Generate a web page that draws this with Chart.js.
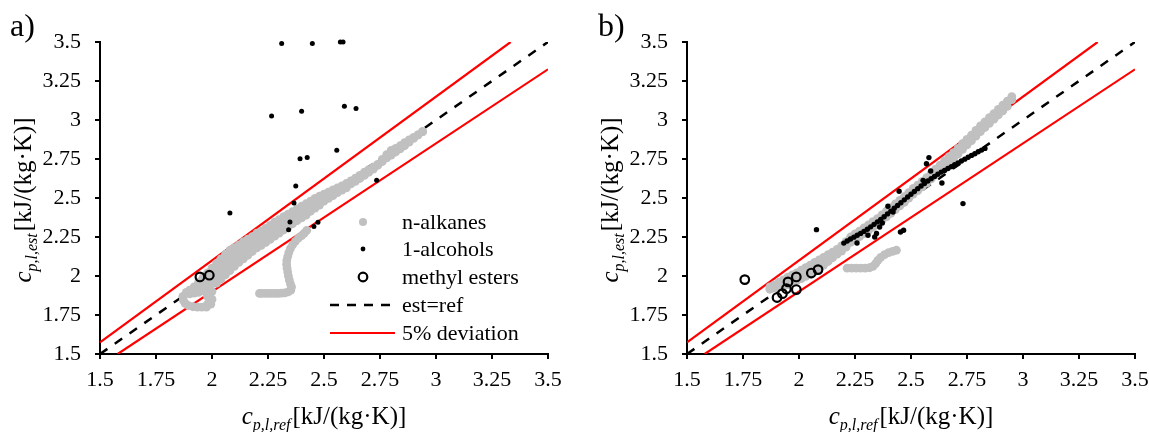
<!DOCTYPE html>
<html>
<head>
<meta charset="utf-8">
<script src="https://cdn.jsdelivr.net/npm/chart.js"></script>
<style>
  html, body { margin: 0; padding: 0; background: #fff; overflow: hidden; }
  #wrap { position: relative; width: 1149px; height: 432px; overflow: hidden; }
  #wrap canvas { position: absolute; top: 0; }
  #chartA { left: 0; }
  #chartB { left: 575px; }
</style>
</head>
<body>
<div id="wrap">
  <canvas id="chartA" width="575" height="432"></canvas>
  <canvas id="chartB" width="600" height="432"></canvas>
</div>
<script>
// shared axis ticks (both axes, both panels)
const axisTicks = [1.5, 1.75, 2, 2.25, 2.5, 2.75, 3, 3.25, 3.5];
const axisLabels = ['1.5', '1.75', '2', '2.25', '2.5', '2.75', '3', '3.25', '3.5'];

// reference lines: est = ref and the +/-5% band
const parityLine = [[1.5, 1.5], [3.5, 3.5]];
const devHigh = [[1.5, 1.575], [3.3333, 3.5]];
const devLow = [[1.5789, 1.5], [3.5, 3.325]];

// ---- panel a) ----
// n-alkanes cloud, read column by column: top edge, two inner rows, bottom edge
const alkColsA = [1.90, 1.92, 1.94, 1.96, 1.98, 2.00, 2.02, 2.04, 2.06, 2.08, 2.10, 2.12, 2.14, 2.16, 2.18, 2.20, 2.22, 2.24,
  2.26, 2.28, 2.30, 2.32, 2.34, 2.36, 2.38, 2.40, 2.42, 2.44, 2.46, 2.48, 2.50, 2.52, 2.54, 2.56, 2.58, 2.60, 2.62, 2.64,
  2.66, 2.68, 2.70, 2.72, 2.74, 2.76, 2.78, 2.80, 2.82, 2.84, 2.86, 2.88, 2.90, 2.92, 2.94];
const alkTopA = [1.91, 1.93, 1.96, 1.99, 2.02, 2.05, 2.08, 2.11, 2.14, 2.165, 2.182, 2.20, 2.22, 2.237, 2.253, 2.275, 2.288, 2.305,
  2.325, 2.345, 2.362, 2.38, 2.397, 2.413, 2.43, 2.447, 2.463, 2.48, 2.497, 2.512, 2.525, 2.538, 2.552, 2.565, 2.578, 2.593, 2.61, 2.627,
  2.645, 2.665, 2.682, 2.698, 2.715, 2.748, 2.778, 2.805, 2.818, 2.835, 2.855, 2.872, 2.888, 2.905, 2.925];
const alkIn1A = [null, null, 1.928, 1.948, 1.97, 2.0, 2.038, 2.067, 2.096, 2.122, 2.142, 2.162, 2.183, 2.202, 2.221, 2.243, 2.258, 2.275,
  2.295, 2.315, 2.333, 2.352, 2.37, 2.387, 2.405, 2.422, 2.439, 2.448, 2.466, 2.484, 2.503, 2.518, 2.534, 2.55, 2.564, 2.579, 2.60, 2.617,
  2.635, 2.655, 2.674, 2.692, 2.712, null, null, null, null, null, null, null, null, null, null];
const alkIn2A = [null, null, null, null, 1.92, 1.95, 1.997, 2.023, 2.052, 2.078, 2.102, 2.125, 2.147, 2.168, 2.189, 2.212, 2.227, 2.245,
  2.265, 2.285, 2.304, 2.323, 2.342, 2.361, 2.38, 2.397, 2.414, null, null, null, null, null, null, null, null, null, null, null,
  null, null, null, null, null, null, null, null, null, null, null, null, null, null, null];
const alkLowA = [1.885, 1.89, 1.895, 1.905, 1.82, 1.85, 1.955, 1.98, 2.008, 2.035, 2.062, 2.087, 2.11, 2.133, 2.157, 2.18, 2.197, 2.215,
  2.235, 2.255, 2.275, 2.295, 2.315, 2.335, 2.355, 2.372, 2.39, 2.415, 2.435, 2.455, 2.48, 2.497, 2.515, 2.535, 2.55, 2.565, 2.59, 2.607,
  2.625, 2.645, 2.665, 2.685, 2.71, 2.733, 2.757, 2.775, 2.795, 2.815, 2.835, 2.858, 2.882, 2.905, 2.925];
// curl at the low end and the separate branch below the band near 2.35
const alkTailA = [[1.87, 1.87], [1.872, 1.845], [1.88, 1.825], [1.895, 1.81], [1.915, 1.803], [1.935, 1.80], [1.955, 1.80],
  [1.975, 1.80], [1.98, 1.87], [2.0, 1.90], [1.995, 1.82], [1.885, 1.895],
  [2.423, 2.293], [2.412, 2.275], [2.40, 2.258], [2.385, 2.242], [2.372, 2.222], [2.36, 2.2], [2.35, 2.175], [2.343, 2.15],
  [2.338, 2.125], [2.334, 2.10], [2.333, 2.075], [2.335, 2.05], [2.338, 2.025], [2.341, 2.0], [2.345, 1.975], [2.35, 1.95],
  [2.355, 1.93], [2.352, 1.91], [2.34, 1.898], [2.325, 1.892], [2.31, 1.89], [2.295, 1.888], [2.28, 1.888], [2.265, 1.888],
  [2.25, 1.888], [2.235, 1.888], [2.22, 1.888], [2.212, 1.888]];
const alcoholsA = [[2.311, 3.49], [2.448, 3.49], [2.573, 3.50], [2.585, 3.50], [2.266, 3.026], [2.40, 3.056], [2.591, 3.088],
  [2.643, 3.073], [2.393, 2.752], [2.425, 2.759], [2.557, 2.806], [2.735, 2.613], [2.374, 2.577], [2.366, 2.468], [2.080, 2.404],
  [2.348, 2.346], [2.342, 2.297], [2.455, 2.318], [2.473, 2.344]];
const estersA = [[1.946, 1.994], [1.988, 2.005]];

// ---- panel b) ----
const alkColsB = [1.87, 1.89, 1.91, 1.93, 1.95, 1.97, 1.99, 2.01, 2.03, 2.05, 2.07, 2.09, 2.11, 2.13, 2.15, 2.17, 2.19, 2.21, 2.23,
  2.25, 2.27, 2.29, 2.31, 2.33, 2.35, 2.37, 2.39, 2.41, 2.43, 2.45, 2.47, 2.49, 2.51, 2.53, 2.55, 2.57, 2.59, 2.61, 2.63, 2.65,
  2.67, 2.69, 2.71, 2.73, 2.75, 2.77, 2.79, 2.81, 2.83, 2.85, 2.87, 2.89, 2.91, 2.93, 2.95];
const alkTopB = [1.93, 1.943, 1.96, 1.975, 1.992, 2.007, 2.02, 2.037, 2.053, 2.07, 2.087, 2.103, 2.12, 2.137, 2.153, 2.17, 2.193, 2.22,
  2.25, 2.27, 2.288, 2.308, 2.328, 2.348, 2.368, 2.392, 2.415, 2.438, 2.462, 2.485, 2.508, 2.535, 2.561, 2.583, 2.607, 2.631, 2.658,
  2.685, 2.711, 2.738, 2.765, 2.791, 2.818, 2.848, 2.876, 2.903, 2.933, 2.962, 2.988, 3.015, 3.041, 3.068, 3.095, 3.121, 3.15];
const alkLowB = [1.915, 1.922, 1.928, 1.935, 1.945, 1.958, 1.97, 1.983, 1.997, 2.01, 2.03, 2.05, 2.07, 2.093, 2.117, 2.14, 2.16, 2.185,
  2.215, 2.233, 2.252, 2.272, 2.292, 2.312, 2.332, 2.356, 2.379, 2.402, 2.426, 2.449, 2.472, 2.499, 2.525, 2.547, 2.571, 2.595, 2.622,
  2.649, 2.675, 2.702, 2.729, 2.755, 2.782, 2.812, 2.84, 2.867, 2.897, 2.926, 2.952, 2.979, 3.005, 3.032, 3.059, 3.087, 3.13];
const alkTailB = [[2.215, 2.05], [2.235, 2.05], [2.255, 2.05], [2.275, 2.05], [2.295, 2.05], [2.315, 2.053], [2.33, 2.062],
  [2.342, 2.08], [2.352, 2.10], [2.365, 2.12], [2.382, 2.137], [2.40, 2.15], [2.418, 2.158], [2.435, 2.165]];
// dense run of 1-alcohol points
const alcLineXB = [2.20, 2.215, 2.23, 2.245, 2.26, 2.275, 2.29, 2.305, 2.32, 2.335, 2.35, 2.365, 2.38, 2.395, 2.41, 2.425, 2.44,
  2.455, 2.47, 2.485, 2.50, 2.515, 2.53, 2.545, 2.56, 2.575, 2.59, 2.605, 2.62, 2.635, 2.65, 2.665, 2.68, 2.695, 2.71, 2.725,
  2.74, 2.755, 2.77, 2.785, 2.80, 2.815, 2.83];
const alcLineYB = [2.211, 2.224, 2.237, 2.249, 2.261, 2.273, 2.286, 2.300, 2.315, 2.331, 2.347, 2.363, 2.380, 2.398, 2.416, 2.434, 2.452,
  2.470, 2.488, 2.506, 2.524, 2.542, 2.560, 2.577, 2.593, 2.609, 2.624, 2.638, 2.652, 2.666, 2.677, 2.689, 2.701, 2.713, 2.725, 2.737,
  2.749, 2.761, 2.773, 2.784, 2.796, 2.807, 2.818];
const alcoholsB = [[2.078, 2.297], [2.259, 2.212], [2.308, 2.261], [2.338, 2.25], [2.346, 2.272], [2.36, 2.314], [2.372, 2.34],
  [2.397, 2.447], [2.42, 2.41], [2.447, 2.543], [2.453, 2.282], [2.467, 2.293], [2.554, 2.613], [2.569, 2.72], [2.58, 2.759],
  [2.588, 2.673], [2.638, 2.596], [2.732, 2.464]];
const estersB = [[1.758, 1.977], [1.902, 1.862], [1.926, 1.887], [1.944, 1.919], [1.951, 1.962], [1.988, 1.994], [1.988, 1.913],
  [2.055, 2.019], [2.085, 2.041]];

const SERIF = '"Liberation Serif", "Times New Roman", serif';
const GREY = '#c0c0c0';
const RED = '#ff0000';

const pts = arr => arr.map(([x, y]) => ({ x, y }));
const cols = (xs, ...rows) => {
  const out = [];
  rows.forEach(r => xs.forEach((x, i) => { if (r[i] != null) out.push({ x, y: r[i] }); }));
  return out;
};

function datasets(alkanes, alcohols, esters, alcRadius) {
  return [
    { label: 'methyl esters', data: esters, order: 0, pointRadius: 4.3, pointBorderWidth: 2.2,
      pointBorderColor: '#000', pointBackgroundColor: 'rgba(0,0,0,0)', clip: false },
    { label: '1-alcohols', data: alcohols, order: 1, pointRadius: alcRadius, pointBorderWidth: 0,
      pointBackgroundColor: '#000', clip: false },
    { label: 'n-alkanes', data: alkanes, order: 2, pointRadius: 4.4, pointBorderWidth: 0,
      pointBackgroundColor: GREY, clip: false },
    { label: 'est=ref', data: pts(parityLine), order: 3, showLine: true, pointRadius: 0,
      borderColor: '#000', borderWidth: 2.5, borderDash: [9, 9] },
    { label: '5% deviation', data: pts(devHigh), order: 4, showLine: true, pointRadius: 0,
      borderColor: RED, borderWidth: 2.2 },
    { label: '5% deviation (low)', data: pts(devLow), order: 4, showLine: true, pointRadius: 0,
      borderColor: RED, borderWidth: 2.2 }
  ];
}

function drawAxisTitle(ctx, sub, cx, cy, vertical) {
  const parts = [
    { t: 'c', f: 'italic 25px ' + SERIF, dy: 0, gap: 0 },
    { t: sub, f: 'italic 16px ' + SERIF, dy: 6, gap: 0 },
    { t: '[kJ/(kg·K)]', f: '25px ' + SERIF, dy: 0, gap: 2 }
  ];
  let w = 0;
  parts.forEach(p => { ctx.font = p.f; p.w = ctx.measureText(p.t).width; w += p.w + p.gap; });
  ctx.save();
  ctx.translate(cx, cy);
  if (vertical) ctx.rotate(-Math.PI / 2);
  ctx.fillStyle = '#000';
  ctx.textAlign = 'left';
  ctx.textBaseline = 'alphabetic';
  let x = -w / 2;
  parts.forEach(p => { x += p.gap; ctx.font = p.f; ctx.fillText(p.t, x, p.dy); x += p.w; });
  ctx.restore();
}

function drawLegend(ctx, area) {
  const sx = area.left + 263, lx0 = area.left + 230, lx1 = area.left + 295, tx = area.left + 302;
  const rowY = [222, 249, 277, 305, 333];
  const names = ['n-alkanes', '1-alcohols', 'methyl esters', 'est=ref', '5% deviation'];
  ctx.save();
  ctx.fillStyle = GREY;
  ctx.beginPath(); ctx.arc(sx, rowY[0], 4, 0, Math.PI * 2); ctx.fill();
  ctx.fillStyle = '#000';
  ctx.beginPath(); ctx.arc(sx, rowY[1], 2.4, 0, Math.PI * 2); ctx.fill();
  ctx.strokeStyle = '#000'; ctx.lineWidth = 2.2;
  ctx.beginPath(); ctx.arc(sx, rowY[2], 4.3, 0, Math.PI * 2); ctx.stroke();
  ctx.lineWidth = 2.5; ctx.setLineDash([9, 8]);
  ctx.beginPath(); ctx.moveTo(lx0, rowY[3]); ctx.lineTo(lx1, rowY[3]); ctx.stroke();
  ctx.setLineDash([]); ctx.strokeStyle = RED; ctx.lineWidth = 2.2;
  ctx.beginPath(); ctx.moveTo(lx0, rowY[4]); ctx.lineTo(lx1, rowY[4]); ctx.stroke();
  ctx.fillStyle = '#000';
  ctx.font = '22px ' + SERIF;
  ctx.textBaseline = 'middle';
  names.forEach((n, i) => ctx.fillText(n, tx, rowY[i] + 1));
  ctx.restore();
}

function makePanel(id, letter, letterX, yWidth, padRight, data, withLegend) {
  const decor = {
    id: 'decor',
    afterDatasetsDraw(chart) {
      if (withLegend) drawLegend(chart.ctx, chart.chartArea);
    },
    afterDraw(chart) {
      const ctx = chart.ctx, a = chart.chartArea;
      ctx.save();
      ctx.fillStyle = '#000';
      ctx.font = '32px ' + SERIF;
      ctx.textBaseline = 'alphabetic';
      ctx.fillText(letter, letterX, 36);
      ctx.restore();
      drawAxisTitle(ctx, 'p,l,ref', (a.left + a.right) / 2, 424, false);
      drawAxisTitle(ctx, 'p,l,est', a.left - 69, (a.top + a.bottom) / 2 + 2, true);
    }
  };
  const tickFont = { family: SERIF, size: 22 };
  const common = {
    type: 'linear', min: 1.5, max: 3.5,
    afterBuildTicks: s => { s.ticks = axisTicks.map(v => ({ value: v })); },
    grid: { drawOnChartArea: false, drawTicks: true, tickLength: 5, color: '#000', lineWidth: 2 },
    border: { display: true, color: '#000', width: 2 }
  };
  return new Chart(document.getElementById(id), {
    type: 'scatter',
    data: { datasets: data },
    options: {
      responsive: false,
      animation: false,
      events: [],
      layout: { padding: { top: 42, right: padRight, left: 0, bottom: 0 } },
      plugins: { legend: { display: false }, tooltip: { enabled: false } },
      scales: {
        x: Object.assign({}, common, {
          position: 'bottom',
          ticks: { font: tickFont, color: '#000', padding: 8, maxRotation: 0, autoSkip: false,
            callback: (v, i) => axisLabels[i] },
          afterFit: s => { s.height = 78; s.paddingLeft = 0; s.paddingRight = 0; }
        }),
        y: Object.assign({}, common, {
          position: 'left',
          ticks: { font: tickFont, color: '#000', padding: 14, autoSkip: false,
            callback: (v, i) => axisLabels[i] },
          afterFit: s => { s.width = yWidth; s.paddingTop = 0; s.paddingBottom = 0; }
        })
      }
    },
    plugins: [decor]
  });
}

makePanel('chartA', 'a)', 10, 100, 27,
  datasets(cols(alkColsA, alkTopA, alkIn1A, alkIn2A, alkLowA).concat(pts(alkTailA)), pts(alcoholsA), pts(estersA), 2.5), true);

makePanel('chartB', 'b)', 23, 112, 40,
  datasets(cols(alkColsB, alkTopB, alkLowB).concat(pts(alkTailB)),
    cols(alcLineXB, alcLineYB).concat(pts(alcoholsB)), pts(estersB), 2.7), false);
</script>
</body>
</html>
